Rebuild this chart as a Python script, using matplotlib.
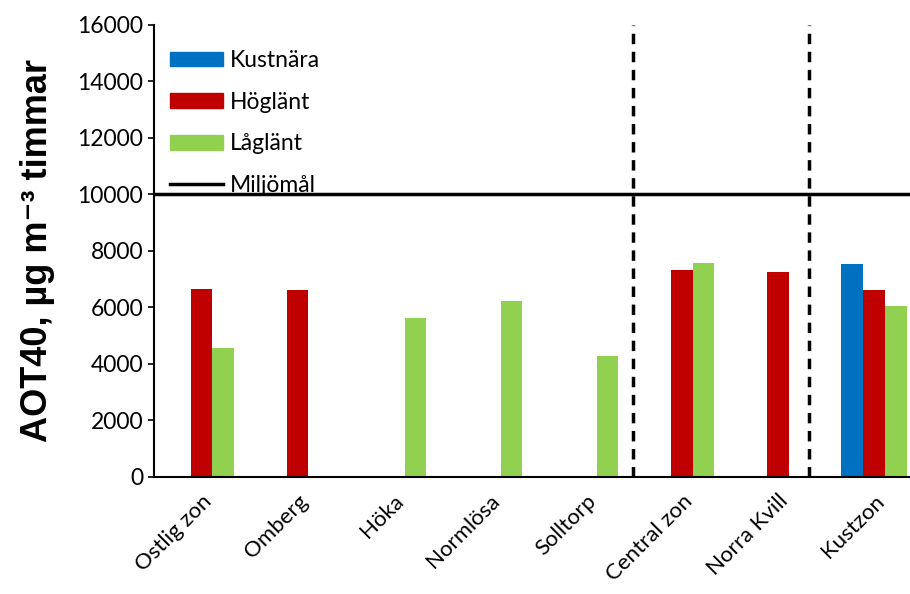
import numpy as np
import matplotlib.pyplot as plt
from matplotlib.lines import Line2D
from matplotlib.patches import Patch

# --------- Data ---------
stations = ['Ostlig zon', 'Omberg', 'Höka', 'Normlösa', 'Solltorp',
            'Central zon', 'Norra Kvill', 'Kustzon']
kustnara = [0, 0, 0, 0, 0, 0, 0, 7540]
hoglant = [6650, 6620, 0, 0, 0, 7330, 7270, 6620]
laglant = [4560, 0, 5630, 6230, 4280, 7580, 0, 6050]
miljomal = 10000
zone_breaks = [4.49, 6.32]

c_blue = '#0070C0'
c_red = '#C00000'
c_green = '#92D050'

plt.rcParams['font.family'] = ['Lato', 'DejaVu Sans']

fig = plt.figure(figsize=(9.1, 5.94), dpi=100)
ax = fig.add_axes([0.1687, 0.197, 0.8313, 0.761])

x = np.arange(len(stations))
w = 0.226
ax.bar(x - w, kustnara, w, color=c_blue)
ax.bar(x, hoglant, w, color=c_red)
ax.bar(x + w, laglant, w, color=c_green)

ax.axhline(miljomal, color='black', lw=2.5, zorder=3)
for xb in zone_breaks:
    ax.axvline(xb, color='black', lw=2.5, ls=(0, (3, 2.2)), zorder=3)

ax.set_xlim(-0.5, 7.374)
ax.set_ylim(0, 16000)
ax.set_yticks(np.arange(0, 16001, 2000))
ax.set_xticks(x)
ax.set_xticklabels(stations, rotation=45, ha='right', rotation_mode='anchor',
                   fontsize=16)
ax.tick_params(axis='x', length=0, pad=10)
ax.tick_params(axis='y', labelsize=16.5, length=4, width=1.2, direction='out')
for s in ['top', 'right']:
    ax.spines[s].set_visible(False)
for s in ['left', 'bottom']:
    ax.spines[s].set_linewidth(1.5)

ax.set_ylabel('AOT40, µg m⁻³ timmar', fontsize=26, fontweight='bold',
              family=['Liberation Sans', 'DejaVu Sans'], labelpad=16)

handles = [Patch(color=c_blue, label='Kustnära'),
           Patch(color=c_red, label='Höglänt'),
           Patch(color=c_green, label='Låglänt'),
           Line2D([], [], color='black', lw=2.5, label='Miljömål')]
ax.legend(handles=handles, loc='upper left', bbox_to_anchor=(-0.005, 0.99),
          frameon=False, fontsize=16.5, handlelength=2.3, handleheight=0.6,
          labelspacing=0.9, handletextpad=0.3)

fig.savefig('out.png', dpi=100)
